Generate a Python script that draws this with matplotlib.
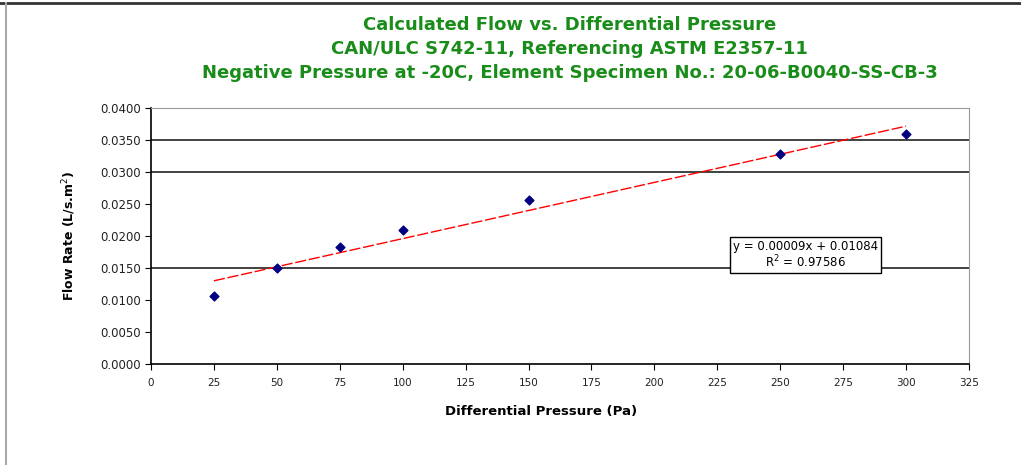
# calculated flow vs differential pressure, with linear trendline
import numpy as np
import matplotlib.pyplot as plt
from matplotlib.lines import Line2D

plt.rcParams['font.family'] = ['DejaVu Sans']

# readings (Pa, L/s.m2)
pressure = [25, 50, 75, 100, 150, 250, 300]
flow = [0.0106, 0.0150, 0.0183, 0.0209, 0.0256, 0.0328, 0.0359]

# only these gridlines show up in the original
grid_levels = [0.0150, 0.0300, 0.0350]

title = ("Calculated Flow vs. Differential Pressure\n"
         "CAN/ULC S742-11, Referencing ASTM E2357-11\n"
         "Negative Pressure at -20C, Element Specimen No.: 20-06-B0040-SS-CB-3")
eq_text = "y = 0.00009x + 0.01084\nR$^2$ = 0.97586"

fig = plt.figure(figsize=(10.21, 4.65), dpi=100)
ax = fig.add_axes([0.1479, 0.2172, 0.949 - 0.1479, 0.7677 - 0.2172])

# outer frame of the chart object (top and left edges only visible)
fig.add_artist(Line2D([0, 1], [0.993, 0.993], transform=fig.transFigure, color='#333333', lw=2))
fig.add_artist(Line2D([0.0059, 0.0059], [0, 0.993], transform=fig.transFigure, color='#aaaaaa', lw=1.5))

for g in grid_levels:
    ax.axhline(g, color='#333333', lw=1.3, zorder=1)

# trendline from a least squares fit
slope, icpt = np.polyfit(pressure, flow, 1)
xs = np.array([pressure[0], pressure[-1]])
ax.plot(xs, slope * xs + icpt, color='red', lw=1, linestyle=(0, (8, 2)), zorder=2)

ax.scatter(pressure, flow, marker='D', s=20, color='#000080', zorder=3)

ax.set_xlim(0, 325)
ax.set_ylim(0, 0.04)
ax.set_xticks(np.arange(0, 326, 25))
yt = np.arange(0, 0.0401, 0.005)
ax.set_yticks(yt)
ax.set_yticklabels([f"{v:.4f}" for v in yt])
ax.tick_params(colors='black', length=4, width=0.8)
ax.tick_params(axis='x', labelsize=7.5, pad=6)
ax.tick_params(axis='y', labelsize=8.5, pad=3)
for lab in ax.get_xticklabels() + ax.get_yticklabels():
    lab.set_color('#222222')

for s in ['left', 'bottom']:
    ax.spines[s].set_color('black')
    ax.spines[s].set_linewidth(1.2)
for s in ['top', 'right']:
    ax.spines[s].set_color('#999999')

ax.set_xlabel("Differential Pressure (Pa)", fontsize=9.5, fontweight='bold')
ax.xaxis.set_label_coords(0.477, -0.16)
ax.set_ylabel("Flow Rate (L/s.m$^2$)", fontsize=9, fontweight='bold', labelpad=16)

fig.text(0.558, 0.966, title, ha='center', va='top', color='#1a8c1a',
         fontsize=13, fontweight='bold', linespacing=1.45)

ax.text(260.2, 0.0170, eq_text, ha='center', va='center', fontsize=8.5,
        linespacing=1.0, zorder=4,
        bbox=dict(boxstyle='square,pad=0.25', fc='white', ec='black', lw=1))

fig.savefig("out.png", dpi=100)
